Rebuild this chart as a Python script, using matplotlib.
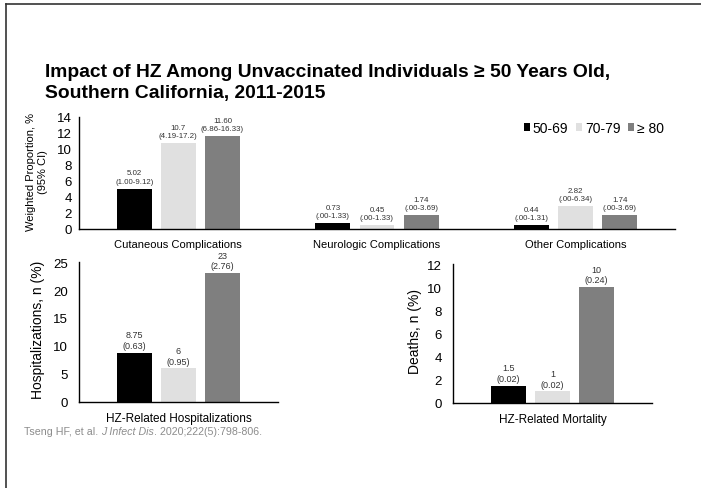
import matplotlib.pyplot as plt
from matplotlib.lines import Line2D

plt.rcParams['font.family'] = ['Liberation Sans', 'DejaVu Sans']

age_groups = ['50-69', '70-79', '≥ 80']
bar_colors = ['#000000', '#e0e0e0', '#7f7f7f']

# Weighted proportion of complications, one list per age group
complications = ['Cutaneous Complications', 'Neurologic Complications', 'Other Complications']
comp_values = [['5.02', '0.73', '0.44'],
               ['10.7', '0.45', '2.82'],
               ['11.60', '1.74', '1.74']]
comp_ci = [['(1.00-9.12)', '(.00-1.33)', '(.00-1.31)'],
           ['(4.19-17.2)', '(.00-1.33)', '(.00-6.34)'],
           ['(6.86-16.33)', '(.00-3.69)', '(.00-3.69)']]

hosp_values = ['8.75', '6', '23']
hosp_pct = ['(0.63)', '(0.95)', '(2.76)']

death_values = ['1.5', '1', '10']
death_pct = ['(0.02)', '(0.02)', '(0.24)']

W, H = 701, 489
fig = plt.figure(figsize=(W / 100, H / 100), dpi=100)

offsets = [-0.222, 0.0, 0.222]
bar_w = 0.176


def px_rect(left, top, right, bottom):
    return [left / W, 1 - bottom / H, (right - left) / W, (bottom - top) / H]


def style_axes(ax, ymax, ystep, tick_fs, pad):
    for side in ['top', 'right']:
        ax.spines[side].set_visible(False)
    for side in ['left', 'bottom']:
        ax.spines[side].set_linewidth(1.0)
        ax.spines[side].set_color('black')
    ax.set_ylim(0, ymax)
    ax.set_yticks(range(0, ymax + 1, ystep))
    ax.tick_params(axis='y', length=0, labelsize=tick_fs, pad=pad)
    ax.tick_params(axis='x', length=0, pad=7)


def draw_bars(ax, n_cat, values, notes, label_fs, offset_pt):
    bars = []
    for g in range(3):
        heights = [float(v) for v in values[g]]
        xs = [c + offsets[g] for c in range(n_cat)]
        b = ax.bar(xs, heights, bar_w, color=bar_colors[g], label=age_groups[g])
        bars.append(b)
        for x, h, v, n in zip(xs, heights, values[g], notes[g]):
            ax.annotate(v + '\n' + n, (x, h), xytext=(0, offset_pt),
                        textcoords='offset points', ha='center', va='bottom',
                        fontsize=label_fs, color='#333333', linespacing=1.25)
    return bars


# top panel: complications
ax1 = fig.add_axes(px_rect(79, 118, 675, 230))
draw_bars(ax1, 3, comp_values, comp_ci, 5.7, 3)
ax1.set_xlim(-0.5, 2.5)
ax1.set_xticks(range(3))
ax1.set_xticklabels(complications, fontsize=8)
style_axes(ax1, 14, 2, 9.5, 5)

fig.legend(handles=ax1.containers, labels=age_groups, loc='center right',
           bbox_to_anchor=(671 / W, 1 - 129 / H), ncol=3, frameon=False,
           fontsize=10, handlelength=0.45, handleheight=0.45,
           handletextpad=0.2, columnspacing=0.55, borderpad=0)

fig.text(37 / W, 1 - 172 / H, 'Weighted Proportion, %\n(95% CI)', rotation=90,
         ha='center', va='center', fontsize=8, multialignment='center')

# bottom left: hospitalizations
ax2 = fig.add_axes(px_rect(79, 263, 278, 403))
draw_bars(ax2, 1, [[v] for v in hosp_values], [[n] for n in hosp_pct], 6.5, 2)
ax2.set_xlim(-0.5, 0.5)
ax2.set_xticks([0])
ax2.set_xticklabels(['HZ-Related Hospitalizations'], fontsize=8.5)
style_axes(ax2, 25, 5, 9.5, 8)
fig.text(38 / W, 1 - 330 / H, 'Hospitalizations, n (%)', rotation=90,
         ha='center', va='center', fontsize=10)

# bottom right: mortality
ax3 = fig.add_axes(px_rect(453, 265, 652, 404))
draw_bars(ax3, 1, [[v] for v in death_values], [[n] for n in death_pct], 6.5, 2)
ax3.set_xlim(-0.5, 0.5)
ax3.set_xticks([0])
ax3.set_xticklabels(['HZ-Related Mortality'], fontsize=8.5)
style_axes(ax3, 12, 2, 9.5, 8)
fig.text(415 / W, 1 - 332 / H, 'Deaths, n (%)', rotation=90,
         ha='center', va='center', fontsize=10)

# title
fig.text(45 / W, 1 - 77 / H, 'Impact of HZ Among Unvaccinated Individuals ≥ 50 Years Old,',
         fontsize=13.9, fontweight='bold', va='baseline')
fig.text(45 / W, 1 - 98 / H, 'Southern California, 2011-2015',
         fontsize=13.9, fontweight='bold', va='baseline')

# citation, with the journal name in italics
renderer = fig.canvas.get_renderer()
x = 24
for piece, style in [('Tseng HF, et al. ', 'normal'), ('J Infect Dis', 'italic'),
                     ('. 2020;222(5):798-806.', 'normal')]:
    t = fig.text(x / W, 1 - 432 / H, piece, fontsize=7.7, color='#8c8c8c',
                 style=style, va='center')
    x += t.get_window_extent(renderer).width

# slide frame on the top and left edges
fig.add_artist(Line2D([6 / W, 1], [1 - 5 / H, 1 - 5 / H], color='#333333', lw=1.2))
fig.add_artist(Line2D([6 / W, 6 / W], [0, 1 - 5 / H], color='#333333', lw=1.2))

fig.savefig('out.png', dpi=100)
